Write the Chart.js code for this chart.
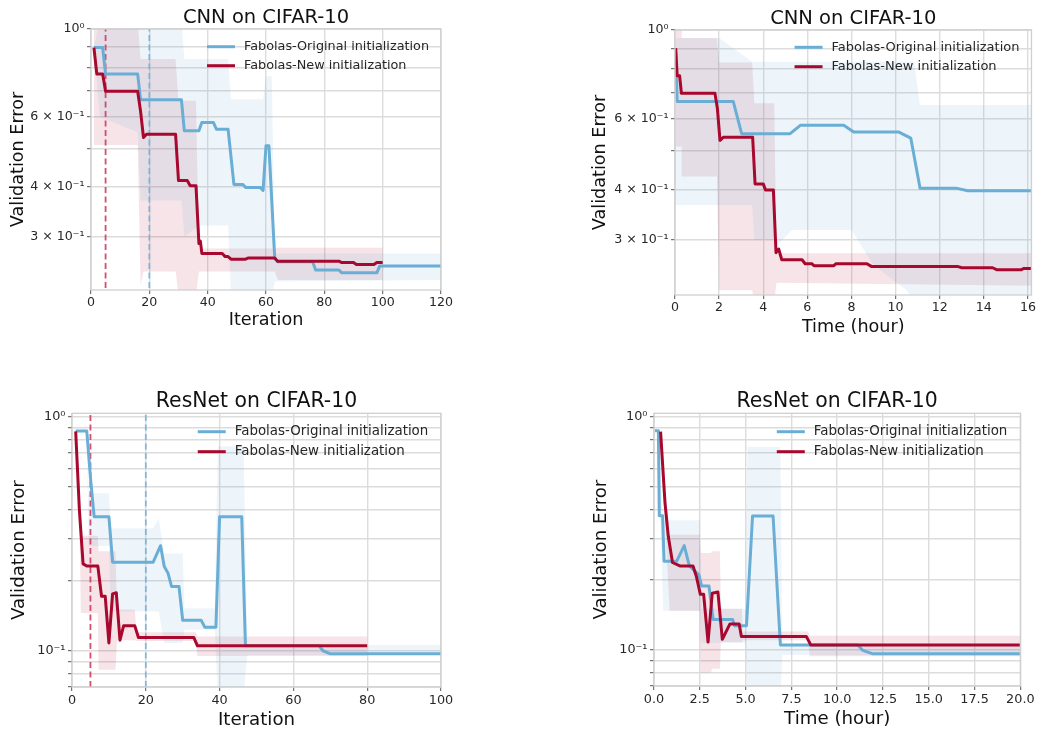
<!DOCTYPE html>
<html>
<head>
<meta charset="utf-8">
<script src="https://cdn.jsdelivr.net/npm/chart.js"></script>
<style>
  body { margin: 0; background: #fff; width: 1037px; height: 729px; position: relative; overflow: hidden; }
  canvas { position: absolute; }
</style>
</head>
<body>
<canvas id="cnnIter"></canvas>
<canvas id="cnnTime"></canvas>
<canvas id="resIter"></canvas>
<canvas id="resTime"></canvas>
<script>
// Series
const seriesNames = ['Fabolas-Original initialization', 'Fabolas-New initialization'];
const seriesColors = ['#6aaed6', '#a9082e'];
const bandColors = ['rgba(107,174,214,0.12)', 'rgba(169,8,46,0.11)'];

// Dashed markers on the iteration plots (initial design size)
const iterMarkers = [20, 5];
const markerColors = ['rgba(120,178,216,0.9)', 'rgba(205,60,95,0.9)'];

// Tick values / labels
const cnnYTicks = [0.3, 0.4, 0.5, 0.6, 0.7, 0.8, 0.9, 1];
const cnnYLabels = ['3 × 10⁻¹', '4 × 10⁻¹', '', '6 × 10⁻¹', '', '', '', '10⁰'];
const resYTicks = [0.07, 0.08, 0.09, 0.1, 0.2, 0.3, 0.4, 0.5, 0.6, 0.7, 0.8, 0.9, 1];
const resYLabels = ['', '', '', '10⁻¹', '', '', '', '', '', '', '', '', '10⁰'];
const cnnIterTicks = [0, 20, 40, 60, 80, 100, 120];
const cnnTimeTicks = [0, 2, 4, 6, 8, 10, 12, 14, 16];
const resIterTicks = [0, 20, 40, 60, 80, 100];
const resTimeTicks = [0, 2.5, 5, 7.5, 10, 12.5, 15, 17.5, 20];

// CNN on CIFAR-10, vs iteration
const cnnIterOrigX = [1, 4, 5, 16, 17, 31, 32, 37, 38, 42, 43, 47, 49, 52, 53, 58, 59, 60, 61, 63, 64, 76, 77, 85, 86, 98, 99, 120];
const cnnIterOrigY = [0.898, 0.898, 0.770, 0.770, 0.663, 0.663, 0.554, 0.554, 0.581, 0.581, 0.559, 0.559, 0.406, 0.406, 0.399, 0.399, 0.392, 0.508, 0.508, 0.264, 0.259, 0.259, 0.247, 0.247, 0.243, 0.243, 0.253, 0.253];
const cnnIterNewX = [1, 2, 4, 5, 16, 17, 18, 19, 29, 30, 33, 34, 36, 37, 37.5, 38, 45, 46, 47, 48, 53, 54, 63, 64, 85, 86, 90, 91, 97, 98, 100];
const cnnIterNewY = [0.898, 0.770, 0.770, 0.697, 0.697, 0.62, 0.533, 0.543, 0.543, 0.415, 0.415, 0.403, 0.403, 0.288, 0.292, 0.272, 0.272, 0.267, 0.267, 0.263, 0.263, 0.265, 0.265, 0.260, 0.260, 0.258, 0.258, 0.255, 0.255, 0.258, 0.258];
const cnnIterOrigBandX = [1, 3, 16, 17, 31, 32, 37, 47, 48, 59, 60, 62, 63, 120];
const cnnIterOrigBandLo = [0.9, 0.6, 0.55, 0.37, 0.37, 0.30, 0.32, 0.32, 0.21, 0.21, 0.21, 0.21, 0.231, 0.233];
const cnnIterOrigBandHi = [0.9, 1.05, 1.05, 1.05, 1.05, 0.84, 0.84, 0.84, 0.665, 0.665, 0.76, 0.76, 0.272, 0.272];
const cnnIterNewBandX = [1, 16, 17, 18, 29, 30, 36, 37, 63, 64, 100];
const cnnIterNewBandLo = [0.51, 0.51, 0.226, 0.245, 0.245, 0.215, 0.215, 0.245, 0.245, 0.233, 0.233];
const cnnIterNewBandHi = [1.05, 1.05, 0.84, 0.84, 0.84, 0.66, 0.66, 0.28, 0.28, 0.281, 0.281];

// CNN on CIFAR-10, vs time (hours)
const cnnTimeOrigX = [0.03, 0.06, 0.1, 2.64, 3.02, 5.22, 5.68, 7.65, 8.1, 10.15, 10.69, 11.11, 12.74, 13.27, 16.16];
const cnnTimeOrigY = [0.901, 0.769, 0.664, 0.664, 0.552, 0.552, 0.579, 0.579, 0.557, 0.557, 0.538, 0.404, 0.404, 0.398, 0.398];
const cnnTimeNewX = [0.03, 0.1, 0.21, 0.29, 1.81, 1.92, 2.04, 2.2, 3.52, 3.63, 4.0, 4.1, 4.46, 4.58, 4.7, 4.84, 5.76, 5.9, 6.2, 6.3, 7.2, 7.3, 8.7, 8.9, 12.8, 13.0, 14.4, 14.6, 15.7, 15.8, 16.16];
const cnnTimeNewY = [0.901, 0.769, 0.769, 0.696, 0.696, 0.639, 0.531, 0.541, 0.541, 0.414, 0.414, 0.400, 0.400, 0.279, 0.285, 0.268, 0.268, 0.262, 0.262, 0.259, 0.259, 0.262, 0.262, 0.258, 0.258, 0.256, 0.256, 0.253, 0.253, 0.255, 0.255];
const cnnTimeOrigBandX = [0, 1.9, 2.0, 3.5, 3.6, 4.5, 4.6, 5.3, 8.0, 9.0, 10.5, 10.84, 11.1, 16.16];
const cnnTimeOrigBandLo = [0.367, 0.367, 0.367, 0.367, 0.30, 0.30, 0.29, 0.318, 0.318, 0.26, 0.225, 0.21, 0.21, 0.21];
const cnnTimeOrigBandHi = [0.955, 0.955, 0.955, 0.834, 0.834, 0.834, 0.834, 0.834, 0.834, 0.834, 0.834, 0.834, 0.651, 0.651];
const cnnTimeNewBandX = [0.03, 0.3, 0.31, 1.9, 2.0, 3.5, 3.6, 4.5, 4.6, 16.16];
const cnnTimeNewBandLo = [0.513, 0.513, 0.432, 0.432, 0.225, 0.225, 0.21, 0.21, 0.235, 0.231];
const cnnTimeNewBandHi = [1.05, 1.05, 0.955, 0.955, 0.83, 0.83, 0.657, 0.657, 0.278, 0.278];

// ResNet on CIFAR-10, vs iteration
const resIterOrigX = [1, 4, 5, 6, 10, 11, 22, 24, 25, 26, 27, 29, 30, 35, 36, 39, 40, 46, 47, 67, 68, 70, 100];
const resIterOrigY = [0.869, 0.869, 0.55, 0.374, 0.374, 0.239, 0.239, 0.281, 0.229, 0.215, 0.188, 0.188, 0.135, 0.135, 0.126, 0.126, 0.374, 0.374, 0.105, 0.105, 0.1, 0.097, 0.097];
const resIterNewX = [1, 2, 3, 4, 7, 8, 9, 10, 11, 12, 13, 14, 17, 18, 33, 34, 80];
const resIterNewY = [0.866, 0.40, 0.235, 0.23, 0.23, 0.171, 0.171, 0.108, 0.175, 0.177, 0.111, 0.128, 0.128, 0.114, 0.114, 0.105, 0.105];
const resIterOrigBandX = [1, 4, 4.5, 10, 10.5, 22, 23.5, 25, 30, 30.5, 38.7, 39.5, 46.5, 47.5, 100];
const resIterOrigBandLo = [0.87, 0.87, 0.28, 0.28, 0.147, 0.147, 0.147, 0.108, 0.108, 0.123, 0.123, 0.065, 0.065, 0.096, 0.096];
const resIterOrigBandHi = [0.87, 0.87, 0.471, 0.471, 0.334, 0.334, 0.368, 0.26, 0.26, 0.152, 0.152, 0.745, 0.745, 0.106, 0.106];
const resIterNewBandX = [1, 2, 2.4, 7, 7.2, 11.8, 12.2, 17, 17.5, 33.5, 34, 80];
const resIterNewBandLo = [0.87, 0.40, 0.145, 0.145, 0.083, 0.083, 0.111, 0.111, 0.11, 0.11, 0.095, 0.095];
const resIterNewBandHi = [0.87, 0.40, 0.31, 0.31, 0.266, 0.266, 0.15, 0.15, 0.12, 0.12, 0.115, 0.115];

// ResNet on CIFAR-10, vs time (hours)
const resTimeOrigX = [0.05, 0.24, 0.29, 0.47, 0.55, 1.24, 1.65, 1.93, 2.45, 2.6, 3.0, 3.23, 4.29, 4.4, 5.05, 5.38, 6.5, 6.9, 11.13, 11.4, 11.95, 20];
const resTimeOrigY = [0.871, 0.871, 0.376, 0.376, 0.240, 0.240, 0.280, 0.229, 0.21, 0.188, 0.188, 0.135, 0.135, 0.127, 0.127, 0.375, 0.375, 0.105, 0.105, 0.0995, 0.0962, 0.0962];
const resTimeNewX = [0.36, 0.6, 0.78, 1.01, 1.41, 2.13, 2.31, 2.53, 2.71, 2.95, 3.18, 3.49, 3.73, 4.14, 4.65, 4.77, 8.32, 8.56, 20];
const resTimeNewY = [0.863, 0.427, 0.307, 0.237, 0.229, 0.229, 0.207, 0.173, 0.173, 0.108, 0.175, 0.177, 0.111, 0.129, 0.129, 0.114, 0.114, 0.105, 0.105];
const resTimeOrigBandX = [0, 0.2, 0.5, 2.5, 2.6, 5.0, 5.1, 6.9, 7.0, 20];
const resTimeOrigBandLo = [0.87, 0.87, 0.147, 0.147, 0.107, 0.107, 0.06, 0.06, 0.095, 0.095];
const resTimeOrigBandHi = [0.87, 0.87, 0.36, 0.36, 0.15, 0.15, 0.744, 0.744, 0.106, 0.106];
const resTimeNewBandX = [0.36, 0.85, 2.5, 2.55, 3.1, 3.2, 3.6, 3.65, 4.8, 4.85, 8.4, 8.5, 20];
const resTimeNewBandLo = [0.86, 0.147, 0.147, 0.08, 0.08, 0.083, 0.083, 0.108, 0.108, 0.11, 0.11, 0.094, 0.094];
const resTimeNewBandHi = [0.86, 0.312, 0.312, 0.26, 0.26, 0.265, 0.265, 0.15, 0.15, 0.12, 0.12, 0.115, 0.115];

Chart.defaults.font.family = '"DejaVu Sans", sans-serif';
Chart.defaults.color = '#262626';

const textColor = '#262626';
const gridColor = '#dcdcdc';
const spineColor = '#cfcfcf';

const zip = (xs, ys) => xs.map((x, i) => ({ x: x, y: ys[i] }));

// Title, in-axes legend and the four spines
const panelDecor = {
    id: 'panelDecor',
    afterDatasetsDraw(chart, args, opts) {
        const { ctx, chartArea: a } = chart;
        ctx.save();
        ctx.strokeStyle = spineColor;
        ctx.lineWidth = 1.3;
        ctx.strokeRect(a.left, a.top, a.right - a.left, a.bottom - a.top);

        ctx.fillStyle = '#111';
        ctx.font = opts.titleSize + 'px "DejaVu Sans"';
        ctx.textAlign = 'center';
        ctx.textBaseline = 'alphabetic';
        ctx.fillText(opts.title, (a.left + a.right) / 2, a.top - 6);

        ctx.font = opts.legendSize + 'px "DejaVu Sans"';
        const w = Math.max(...seriesNames.map(n => ctx.measureText(n).width));
        const tx = a.right - opts.legendRight - w;
        seriesNames.forEach((name, i) => {
            const y = a.top + opts.legendTop + i * opts.legendGap;
            ctx.strokeStyle = seriesColors[i];
            ctx.lineWidth = 3;
            ctx.beginPath();
            ctx.moveTo(tx - 37, y);
            ctx.lineTo(tx - 9, y);
            ctx.stroke();
            ctx.fillStyle = textColor;
            ctx.textAlign = 'left';
            ctx.textBaseline = 'middle';
            ctx.fillText(name, tx, y);
        });
        ctx.restore();
    }
};

function makePanel(p) {
    const canvas = document.getElementById(p.id);
    canvas.width = p.box.width;
    canvas.height = p.box.height;
    canvas.style.left = p.box.left + 'px';
    canvas.style.top = p.box.top + 'px';

    const datasets = [];
    // red (new) drawn above blue (original)
    [1, 0].forEach((k, n) => {
        datasets.push({
            data: zip(p.lines[k][0], p.lines[k][1]),
            borderColor: seriesColors[k],
            borderWidth: 3,
            borderJoinStyle: 'round',
            pointRadius: 0,
            fill: false,
            order: n
        });
    });
    (p.markers || []).forEach((m, i) => {
        datasets.push({
            data: [{ x: m, y: p.yMin }, { x: m, y: p.yMax }],
            borderColor: markerColors[i],
            borderWidth: 1.8,
            borderDash: [6, 3.5],
            pointRadius: 0,
            fill: false,
            order: 2
        });
    });
    [0, 1].forEach(k => {
        const [bx, lo, hi] = p.bands[k];
        datasets.push({
            data: zip(bx, hi),
            borderWidth: 0,
            borderColor: 'rgba(0,0,0,0)',
            backgroundColor: bandColors[k],
            pointRadius: 0,
            fill: '+1',
            order: 3
        });
        datasets.push({
            data: zip(bx, lo),
            borderWidth: 0,
            borderColor: 'rgba(0,0,0,0)',
            pointRadius: 0,
            fill: false,
            order: 3
        });
    });

    const tickFont = { size: p.tickSize };
    const labelFont = { size: p.labelSize, lineHeight: 1 };

    new Chart(canvas, {
        type: 'line',
        data: { datasets: datasets },
        options: {
            responsive: false,
            animation: false,
            events: [],
            layout: { padding: { top: p.padTop, right: p.padRight, left: 0, bottom: 0 } },
            plugins: {
                legend: { display: false },
                tooltip: { enabled: false },
                panelDecor: {
                    title: p.title, titleSize: p.titleSize,
                    legendSize: p.legendSize, legendTop: p.legendTop,
                    legendGap: p.legendGap, legendRight: p.legendRight
                }
            },
            scales: {
                x: {
                    type: 'linear',
                    min: p.xMin,
                    max: p.xMax,
                    afterBuildTicks: s => { s.ticks = p.xTicks.map(v => ({ value: v })); },
                    afterFit: s => { s.height = p.xAxisH; },
                    ticks: {
                        autoSkip: false,
                        maxRotation: 0,
                        font: tickFont,
                        color: textColor,
                        padding: p.xTickPad,
                        callback: v => p.xLabels[p.xTicks.indexOf(v)]
                    },
                    grid: { color: gridColor, lineWidth: 1.4, tickLength: 4, tickColor: '#555', tickWidth: 1 },
                    border: { display: false },
                    title: { display: true, text: p.xTitle, font: labelFont, color: '#111', padding: { top: 0, bottom: p.xTitlePad } }
                },
                y: {
                    type: 'logarithmic',
                    min: p.yMin,
                    max: p.yMax,
                    afterBuildTicks: s => { s.ticks = p.yTicks.map(v => ({ value: v })); },
                    afterFit: s => { s.width = p.yAxisW; },
                    ticks: {
                        autoSkip: false,
                        font: tickFont,
                        color: textColor,
                        padding: 2.5,
                        callback: v => p.yLabels[p.yTicks.indexOf(v)]
                    },
                    grid: { color: gridColor, lineWidth: 1.4, tickLength: 4, tickColor: '#555', tickWidth: 1 },
                    border: { display: false },
                    title: { display: true, text: 'Validation Error', font: labelFont, color: '#111', padding: { top: p.yTitlePad, bottom: 0 } }
                }
            }
        },
        plugins: [panelDecor]
    });
}

const topRow = { titleSize: 19.5, labelSize: 17.6, tickSize: 12.6, legendSize: 12.8 };
const bottomRow = { titleSize: 20.4, labelSize: 18.2, tickSize: 12.8, legendSize: 13.4 };

makePanel(Object.assign({
    id: 'cnnIter', title: 'CNN on CIFAR-10', xTitle: 'Iteration',
    xMin: 0, xMax: 120, yMin: 0.2226, yMax: 1,
    xTicks: cnnIterTicks, xLabels: cnnIterTicks.map(String),
    yTicks: cnnYTicks, yLabels: cnnYLabels,
    lines: [[cnnIterOrigX, cnnIterOrigY], [cnnIterNewX, cnnIterNewY]],
    bands: [[cnnIterOrigBandX, cnnIterOrigBandLo, cnnIterOrigBandHi], [cnnIterNewBandX, cnnIterNewBandLo, cnnIterNewBandHi]],
    markers: iterMarkers,
    box: { left: 0, top: 0, width: 465, height: 340 },
    yAxisW: 91, padTop: 29, padRight: 24, xAxisH: 50,
    xTickPad: 1.2, xTitlePad: 10.4, yTitlePad: 9.5,
    legendTop: 17.7, legendGap: 19, legendRight: 12
}, topRow));

makePanel(Object.assign({
    id: 'cnnTime', title: 'CNN on CIFAR-10', xTitle: 'Time (hour)',
    xMin: 0, xMax: 16.16, yMin: 0.219, yMax: 1,
    xTicks: cnnTimeTicks, xLabels: cnnTimeTicks.map(String),
    yTicks: cnnYTicks, yLabels: cnnYLabels,
    lines: [[cnnTimeOrigX, cnnTimeOrigY], [cnnTimeNewX, cnnTimeNewY]],
    bands: [[cnnTimeOrigBandX, cnnTimeOrigBandLo, cnnTimeOrigBandHi], [cnnTimeNewBandX, cnnTimeNewBandLo, cnnTimeNewBandHi]],
    markers: [],
    box: { left: 580, top: 0, width: 457, height: 340 },
    yAxisW: 95, padTop: 30, padRight: 5, xAxisH: 45,
    xTickPad: 1, xTitlePad: 3.7, yTitlePad: 11.2,
    legendTop: 17.3, legendGap: 19.4, legendRight: 12
}, topRow, { legendSize: 13 }));

makePanel(Object.assign({
    id: 'resIter', title: 'ResNet on CIFAR-10', xTitle: 'Iteration',
    xMin: 0, xMax: 100, yMin: 0.07, yMax: 1.034,
    xTicks: resIterTicks, xLabels: resIterTicks.map(String),
    yTicks: resYTicks, yLabels: resYLabels,
    lines: [[resIterOrigX, resIterOrigY], [resIterNewX, resIterNewY]],
    bands: [[resIterOrigBandX, resIterOrigBandLo, resIterOrigBandHi], [resIterNewBandX, resIterNewBandLo, resIterNewBandHi]],
    markers: iterMarkers,
    box: { left: 0, top: 370, width: 465, height: 359 },
    yAxisW: 72, padTop: 43.3, padRight: 24, xAxisH: 42,
    xTickPad: 2.2, xTitlePad: 0, yTitlePad: 9.9,
    legendTop: 18.4, legendGap: 20, legendRight: 12.7
}, bottomRow));

makePanel(Object.assign({
    id: 'resTime', title: 'ResNet on CIFAR-10', xTitle: 'Time (hour)',
    xMin: 0, xMax: 20, yMin: 0.07, yMax: 1.034,
    xTicks: resTimeTicks, xLabels: resTimeTicks.map(v => v.toFixed(1)),
    yTicks: resYTicks, yLabels: resYLabels,
    lines: [[resTimeOrigX, resTimeOrigY], [resTimeNewX, resTimeNewY]],
    bands: [[resTimeOrigBandX, resTimeOrigBandLo, resTimeOrigBandHi], [resTimeNewBandX, resTimeNewBandLo, resTimeNewBandHi]],
    markers: [],
    box: { left: 580, top: 370, width: 457, height: 359 },
    yAxisW: 74, padTop: 43.3, padRight: 15, xAxisH: 43,
    xTickPad: 2.4, xTitlePad: 0.4, yTitlePad: 11.7,
    legendTop: 18.4, legendGap: 20, legendRight: 13
}, bottomRow));
</script>
</body>
</html>
